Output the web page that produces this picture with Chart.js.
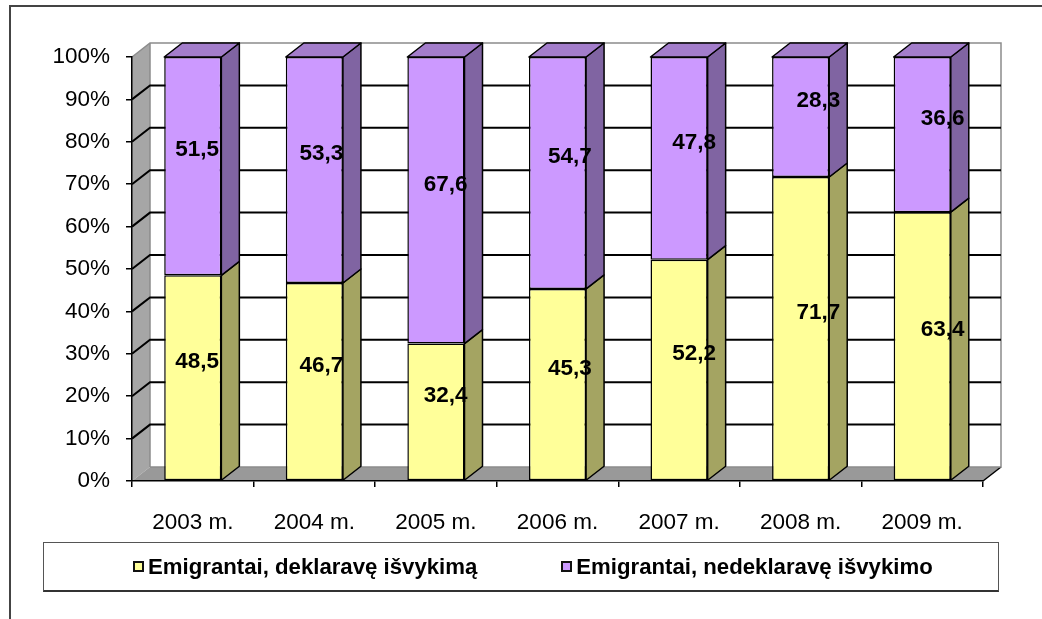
<!DOCTYPE html>
<html>
<head>
<meta charset="utf-8">
<script src="https://cdn.jsdelivr.net/npm/chart.js@4/dist/chart.umd.min.js"></script>
<style>
body{margin:0;background:#fff;font-family:'Liberation Sans',Arial,sans-serif}
#wrap{position:relative;width:1042px;height:619px;overflow:hidden}
#frame{position:absolute;left:9px;top:5px;width:1100px;height:700px;border-left:2px solid #444;border-top:2px solid #444}
#legend{position:absolute;left:43px;top:542px;width:956px;height:50px;border:1px solid #555;border-bottom:2px solid #333;
  display:flex;align-items:center;padding-left:89px;box-sizing:border-box;font-weight:bold;font-size:22.2px;color:#000;white-space:nowrap}
#legend .item{display:flex;align-items:center;flex-shrink:0}
#legend .item + .item{margin-left:84px}
#legend .sq{width:11px;height:11px;border:2px solid #111;box-sizing:border-box;margin-right:4px}
</style>
</head>
<body>
<div id="wrap">
  <div id="frame"></div>
  <canvas id="myChart"></canvas>
  <div id="legend"></div>
</div>
<script>
// duomenys
const years = ['2003 m.', '2004 m.', '2005 m.', '2006 m.', '2007 m.', '2008 m.', '2009 m.']
const deklaravo = [48.5, 46.7, 32.4, 45.3, 52.2, 71.7, 63.4]
const nedeklaravo = [51.5, 53.3, 67.6, 54.7, 47.8, 28.3, 36.6]
const seriesNames = ['Emigrantai, deklaravę išvykimą', 'Emigrantai, nedeklaravę išvykimo']

const frontColors = ['#FFFF99', '#CC99FF']
const sideColors = ['#A4A462', '#8064A2']
const topColor = '#A37DCB'
const DX = 18, DY = 14
const FONT = "'Liberation Sans', Arial, sans-serif"

// sienos, grindys ir tinklelis (pries asis)
walls = {
  id: 'walls',
  beforeDraw: (chart) => {
    const ctx = chart.ctx, a = chart.chartArea, y = chart.scales.y
    ctx.save()
    // kaire siena
    ctx.fillStyle = '#A6A6A6'
    ctx.beginPath()
    ctx.moveTo(a.left, a.top); ctx.lineTo(a.left + DX, a.top - DY)
    ctx.lineTo(a.left + DX, a.bottom - DY); ctx.lineTo(a.left, a.bottom)
    ctx.closePath(); ctx.fill()
    // grindys
    ctx.fillStyle = '#999999'
    ctx.beginPath()
    ctx.moveTo(a.left, a.bottom); ctx.lineTo(a.right, a.bottom)
    ctx.lineTo(a.right + DX, a.bottom - DY); ctx.lineTo(a.left + DX, a.bottom - DY)
    ctx.closePath(); ctx.fill()
    ctx.strokeStyle = '#000'; ctx.lineWidth = 1.5
    ctx.beginPath()
    ctx.moveTo(a.right, a.bottom); ctx.lineTo(a.right + DX, a.bottom - DY)
    ctx.stroke()
    // galine siena - kontura
    ctx.strokeStyle = '#8C8C8C'; ctx.lineWidth = 1.5
    ctx.beginPath()
    ctx.moveTo(a.left, a.top); ctx.lineTo(a.left + DX, a.top - DY)
    ctx.lineTo(a.right + DX, a.top - DY); ctx.lineTo(a.right + DX, a.bottom - DY)
    ctx.lineTo(a.left + DX, a.bottom - DY)
    ctx.moveTo(a.left + DX, a.top - DY); ctx.lineTo(a.left + DX, a.bottom - DY)
    ctx.stroke()
    // tinklelis
    ctx.strokeStyle = '#000'; ctx.lineWidth = 2
    y.ticks.forEach(t => {
      if (t.value <= 0 || t.value >= 100) return
      const py = y.getPixelForValue(t.value)
      ctx.beginPath()
      ctx.moveTo(a.left, py); ctx.lineTo(a.left + DX, py - DY)
      ctx.lineTo(a.right + DX, py - DY)
      ctx.stroke()
    })
    ctx.restore()
  }
}

// stulpeliu sonai, virsus ir reiksmes
sides = {
  id: 'sides',
  afterDatasetsDraw: (chart) => {
    const ctx = chart.ctx, a = chart.chartArea
    ctx.save()
    ctx.strokeStyle = '#000'; ctx.lineWidth = 1.5; ctx.lineJoin = 'round'
    chart.data.datasets.forEach((ds, d) => {
      chart.getDatasetMeta(d).data.forEach((bar) => {
        const r = bar.x + bar.width / 2, l = bar.x - bar.width / 2
        const top = Math.min(bar.y, bar.base), bot = Math.max(bar.y, bar.base)
        ctx.fillStyle = sideColors[d]
        ctx.beginPath()
        ctx.moveTo(r, top); ctx.lineTo(r + DX, top - DY)
        ctx.lineTo(r + DX, bot - DY); ctx.lineTo(r, bot)
        ctx.closePath(); ctx.fill(); ctx.stroke()
        if (d == chart.data.datasets.length - 1) {
          ctx.fillStyle = topColor
          ctx.beginPath()
          ctx.moveTo(l, top); ctx.lineTo(l + DX, top - DY)
          ctx.lineTo(r + DX, top - DY); ctx.lineTo(r, top)
          ctx.closePath(); ctx.fill(); ctx.stroke()
        }
      })
    })
    // reiksmes
    ctx.fillStyle = '#000'
    ctx.font = 'bold 22.5px ' + FONT
    ctx.textAlign = 'center'; ctx.textBaseline = 'middle'
    chart.data.datasets.forEach((ds, d) => {
      chart.getDatasetMeta(d).data.forEach((bar, i) => {
        const mid = (bar.y + bar.base) / 2
        const shift = 3 + 0.022 * (bar.x - a.left)
        ctx.fillText(String(ds.data[i]).replace('.', ','), bar.x + shift, mid - 16)
      })
    })
    ctx.restore()
  }
}

var ctx = document.getElementById('myChart').getContext('2d')
var myChart = new Chart(ctx, {
  type: 'bar',
  data: {
    labels: years,
    datasets: [
      { label: seriesNames[0], data: deklaravo, backgroundColor: frontColors[0], borderColor: '#000', borderWidth: 1.5, borderSkipped: false },
      { label: seriesNames[1], data: nedeklaravo, backgroundColor: frontColors[1], borderColor: '#000', borderWidth: 1.5, borderSkipped: false }
    ]
  },
  options: {
    responsive: true,
    maintainAspectRatio: false,
    animation: false,
    layout: { padding: { left: 0, top: 57, right: 59, bottom: 0 } },
    barPercentage: 0.47,
    categoryPercentage: 1,
    plugins: { legend: { display: false }, tooltip: { enabled: false } },
    scales: {
      x: {
        stacked: true,
        offset: true,
        grid: { offset: true, drawOnChartArea: false, drawTicks: true, tickLength: 6, color: '#000', lineWidth: 1.5 },
        border: { color: '#000', width: 1.5 },
        ticks: { color: '#000', font: { family: FONT, size: 22.5 }, padding: 22, maxRotation: 0 },
        afterFit: (s) => { s.height = 138 }
      },
      y: {
        stacked: true,
        min: 0, max: 100,
        grid: { drawOnChartArea: false, drawTicks: true, tickLength: 6, color: '#000', lineWidth: 1.5 },
        border: { color: '#000', width: 1.5 },
        ticks: { stepSize: 10, color: '#000', font: { family: FONT, size: 22.5 }, padding: 16, callback: (v) => v + '%' },
        afterFit: (s) => { s.width = 132 }
      }
    }
  },
  plugins: [walls, sides]
})

// legenda
var leg = document.getElementById('legend')
seriesNames.forEach((n, i) => {
  var it = document.createElement('div')
  it.className = 'item'
  it.innerHTML = '<span class="sq" style="background:' + frontColors[i] + '"></span><span>' + n + '</span>'
  leg.appendChild(it)
})
</script>
</body>
</html>
